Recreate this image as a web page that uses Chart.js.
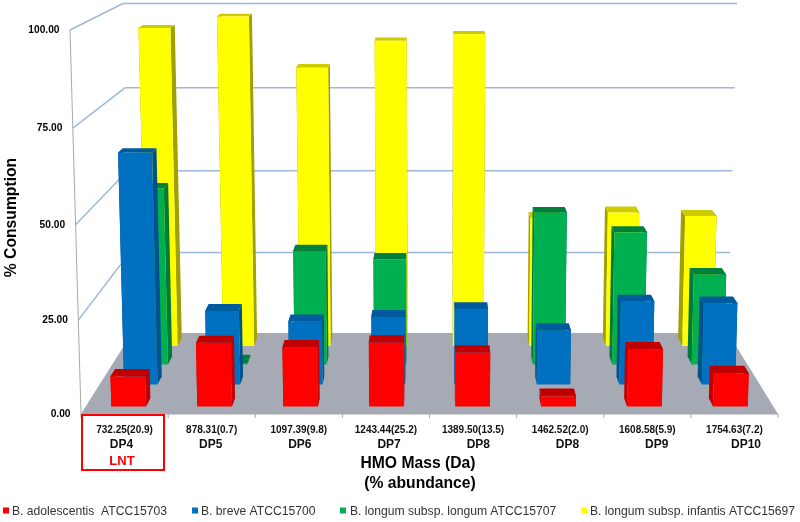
<!DOCTYPE html>
<html>
<head>
<meta charset="utf-8">
<title>HMO consumption</title>
<style>
  body { margin: 0; background: #fff; }
  canvas { display: block; }
</style>
<script src="https://cdn.jsdelivr.net/npm/chart.js@4"></script>
</head>
<body>
<canvas id="grafico" width="800" height="522"></canvas>
<script>
// === Dados ===
const massLabels = ["732.25(20.9)", "878.31(0.7)", "1097.39(9.8)", "1243.44(25.2)", "1389.50(13.5)", "1462.52(2.0)", "1608.58(5.9)", "1754.63(7.2)"];
const dpLabels = ["DP4", "DP5", "DP6", "DP7", "DP8", "DP8", "DP9", "DP10"];
const seriesNames = ["B. adolescentis  ATCC15703", "B. breve ATCC15700", "B. longum subsp. longum ATCC15707", "B. longum subsp. infantis ATCC15697"];
const adolescentis = [8.1, 17.2, 16, 17.3, 14.6, 2.7, 15.5, 9];
const breve = [64.3, 20.7, 17.7, 19, 21.2, 15.2, 23.3, 22.8];
const longum = [51, 0.5, 33, 30.6, 0, 44, 38.4, 26.2];
const infantis = [94.2, 97.5, 82.7, 90.5, 92.4, 38.5, 40.2, 39.1];

// === Estilo ===
const frontColors = ["#ff0000", "#0070c0", "#00b050", "#ffff00"];
const capColors = ["#c00000", "#005a9e", "#00803c", "#cccc00"];
const sideColors = ["#c00000", "#00508c", "#007a3a", "#a0a000"];
const legendMarkX = [3, 192, 340, 581];
const legendTextX = [12, 201, 350, 590];
const rowDepth = [0.093, 0.364, 0.61, 0.84];
const barDepth = 0.1;

// Cantos do plano frontal e do plano de fundo, em pixels
const frente = { bl: [81, 414], tl: [70, 30], br: [778, 414], tr: [789, 30] };
const fundo = { bl: [132, 333], tl: [123, 3.5], br: [728, 333], tr: [737, 3.5] };

function lerp(a, b, t) {
  return a + (b - a) * t;
}

function noPlano(q, u, v) {
  const base = [lerp(q.bl[0], q.br[0], u), lerp(q.bl[1], q.br[1], u)];
  const topo = [lerp(q.tl[0], q.tr[0], u), lerp(q.tl[1], q.tr[1], u)];
  return [lerp(base[0], topo[0], v), lerp(base[1], topo[1], v)];
}

// Converte um pixel do chartArea mais a profundidade para a posição na tela
function projetar(chart, px, py, d) {
  const a = chart.chartArea;
  const u = (px - a.left) / (a.right - a.left);
  const v0 = (a.bottom - py) / (a.bottom - a.top);
  const v = v0 / (1 + 0.03 * (1 - v0));
  const f = noPlano(frente, u, v);
  const b = noPlano(fundo, u, v);
  return [lerp(f[0], b[0], d), lerp(f[1], b[1], d)];
}

function poligono(ctx, pts, cor) {
  ctx.fillStyle = cor;
  ctx.beginPath();
  pts.forEach((p, i) => (i ? ctx.lineTo(p[0], p[1]) : ctx.moveTo(p[0], p[1])));
  ctx.closePath();
  ctx.fill();
}

function linha(ctx, a, b, cor, largura) {
  ctx.strokeStyle = cor;
  ctx.lineWidth = largura;
  ctx.beginPath();
  ctx.moveTo(a[0], a[1]);
  ctx.lineTo(b[0], b[1]);
  ctx.stroke();
}

function texto(ctx, s, x, y, fonte, cor, alinhamento) {
  ctx.font = fonte;
  ctx.fillStyle = cor;
  ctx.textAlign = alinhamento || "center";
  ctx.textBaseline = "middle";
  ctx.fillText(s, x, y);
}

// === Plugin: desenha o gráfico em perspectiva a partir das escalas ===
const perspectiva = {
  id: "perspectiva",

  // Chão e linhas de grade
  beforeDatasetsDraw(chart) {
    const { ctx, chartArea: a, scales } = chart;
    poligono(ctx, [
      projetar(chart, a.left, a.bottom, 0),
      projetar(chart, a.right, a.bottom, 0),
      projetar(chart, a.right, a.bottom, 1),
      projetar(chart, a.left, a.bottom, 1)
    ], "#a6aab5");

    scales.y.ticks.forEach((t) => {
      if (t.value === 0) return;
      const py = scales.y.getPixelForValue(t.value);
      linha(ctx, projetar(chart, a.left, py, 0), projetar(chart, a.left, py, 1), "#9fb8da", 1.5);
      linha(ctx, projetar(chart, a.left, py, 1), projetar(chart, a.right, py, 1), "#9fb8da", 1.5);
    });

    linha(ctx, projetar(chart, a.left, a.top, 0), projetar(chart, a.left, a.bottom, 0), "#a8a8a8", 1);
    linha(ctx, projetar(chart, a.left, a.bottom, 0), projetar(chart, a.right, a.bottom, 0), "#a8a8a8", 1);

    // Marcas do eixo x
    for (let i = 0; i <= massLabels.length; i++) {
      const px = lerp(a.left, a.right, i / massLabels.length);
      linha(ctx, [px, a.bottom], [px, a.bottom + 4], "#a8a8a8", 1);
    }
  },

  // Troca a barra plana por uma caixa 3D
  beforeDatasetDraw(chart, args) {
    const { ctx } = chart;
    const s = args.index;
    const d0 = rowDepth[s];
    const d1 = d0 + barDepth;
    args.meta.data.forEach((bar) => {
      if (Math.abs(bar.base - bar.y) < 0.5) return;
      const l = bar.x - bar.width / 2;
      const r = bar.x + bar.width / 2;
      const p = (x, y, d) => projetar(chart, x, y, d);
      poligono(ctx, [p(l, bar.base, d0), p(l, bar.y, d0), p(l, bar.y, d1), p(l, bar.base, d1)], sideColors[s]);
      poligono(ctx, [p(r, bar.base, d0), p(r, bar.y, d0), p(r, bar.y, d1), p(r, bar.base, d1)], sideColors[s]);
      poligono(ctx, [p(l, bar.y, d0), p(r, bar.y, d0), p(r, bar.y, d1), p(l, bar.y, d1)], capColors[s]);
      poligono(ctx, [p(l, bar.base, d0), p(r, bar.base, d0), p(r, bar.y, d0), p(l, bar.y, d0)], frontColors[s]);
    });
    return false;
  },

  // Todos os textos
  afterDraw(chart) {
    const { ctx, chartArea: a, scales } = chart;
    const negrito = (n) => "bold " + n + 'px "Liberation Sans"';

    scales.y.ticks.forEach((t) => {
      const pos = projetar(chart, a.left, scales.y.getPixelForValue(t.value), 0);
      texto(ctx, t.label, pos[0] - 10.5, pos[1] + 0.5, negrito(10.2), "#000", "right");
    });

    massLabels.forEach((m, i) => {
      const px = scales.x.getPixelForValue(i);
      texto(ctx, m, px, 430, negrito(10), "#111");
      texto(ctx, dpLabels[i], px + (i - 1.5) * 2.1, 444.5, negrito(12), "#111");
    });

    ctx.strokeStyle = "#ff0000";
    ctx.lineWidth = 2;
    ctx.strokeRect(82, 415, 82, 55);
    texto(ctx, "LNT", 122, 461.5, negrito(13), "#ff0000");

    texto(ctx, "HMO Mass (Da)", 418, 464, negrito(15.7), "#000");
    texto(ctx, "(% abundance)", 420, 484, negrito(15.7), "#000");

    ctx.save();
    ctx.translate(12, 217.5);
    ctx.rotate(-Math.PI / 2);
    texto(ctx, "% Consumption", 0, 0, negrito(15.7), "#000");
    ctx.restore();

    seriesNames.forEach((nome, i) => {
      ctx.fillStyle = frontColors[i];
      ctx.fillRect(legendMarkX[i], 507.5, 6, 6);
      texto(ctx, nome, legendTextX[i], 511.5, '12.15px "Liberation Sans"', "#333", "left");
    });
  }
};

// === Gráfico ===
new Chart(document.getElementById("grafico"), {
  type: "bar",
  data: {
    labels: massLabels,
    datasets: [
      { label: seriesNames[0], data: adolescentis, backgroundColor: frontColors[0] },
      { label: seriesNames[1], data: breve, backgroundColor: frontColors[1] },
      { label: seriesNames[2], data: longum, backgroundColor: frontColors[2] },
      { label: seriesNames[3], data: infantis, backgroundColor: frontColors[3] }
    ]
  },
  options: {
    responsive: false,
    animation: false,
    layout: { padding: { left: 81, right: 22, top: 30, bottom: 108 } },
    datasets: { bar: { grouped: false, barPercentage: 0.405, categoryPercentage: 1 } },
    scales: {
      x: { display: false },
      y: {
        display: false,
        min: 0,
        max: 100,
        ticks: { stepSize: 25, callback: (v) => v.toFixed(2) }
      }
    },
    plugins: {
      legend: { display: false },
      tooltip: { enabled: false }
    }
  },
  plugins: [perspectiva]
});
</script>
</body>
</html>
